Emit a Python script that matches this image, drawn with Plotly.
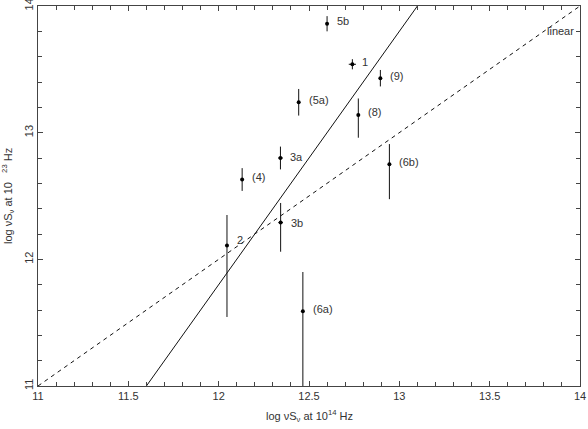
import plotly.graph_objects as go

# data
labels = ["5b", "1", "(9)", "(5a)", "(8)", "3a", "(4)", "(6b)", "3b", "2", "(6a)"]
x_ir = [12.60, 12.74, 12.895, 12.443, 12.773, 12.342, 12.13, 12.945, 12.343, 12.046, 12.466]
y_gamma = [13.86, 13.54, 13.43, 13.24, 13.14, 12.80, 12.63, 12.75, 12.29, 12.11, 11.59]
y_err_plus = [0.06, 0.04, 0.065, 0.105, 0.13, 0.09, 0.09, 0.16, 0.155, 0.24, 0.31]
y_err_minus = [0.06, 0.04, 0.065, 0.105, 0.18, 0.09, 0.09, 0.275, 0.23, 0.565, 0.8]
x_err = [0.0, 0.02, 0.0, 0.0, 0.0, 0.013, 0.0, 0.0, 0.013, 0.0, 0.0]
label_dy = [0.02, 0.02, 0.02, 0.02, 0.02, 0.01, 0.02, 0.02, 0.0, 0.04, 0.02]

fit_slope, fit_intercept = 2.0, -12.2
x_line = [11.0, 14.0]
x_range = [11, 14]
y_range = [11, 14]

font = dict(family="Liberation Sans, Arial, sans-serif", size=11, color="#333333")

fig = go.Figure()

fig.add_trace(go.Scatter(
    x=x_line, y=[fit_slope * v + fit_intercept for v in x_line],
    mode="lines", line=dict(color="#111111", width=1), showlegend=False,
    cliponaxis=True))
fig.add_trace(go.Scatter(
    x=x_line, y=x_line,
    mode="lines", line=dict(color="#111111", width=1, dash="4px,4px"), showlegend=False))

fig.add_trace(go.Scatter(
    x=x_ir, y=y_gamma, mode="markers",
    marker=dict(color="black", size=4),
    error_y=dict(type="data", symmetric=False, array=y_err_plus, arrayminus=y_err_minus,
                 color="#111111", thickness=1, width=0),
    error_x=dict(type="data", array=x_err, color="#111111", thickness=1, width=0),
    showlegend=False, cliponaxis=True))

for lab, xv, yv, dy in zip(labels, x_ir, y_gamma, label_dy):
    fig.add_annotation(x=xv, y=yv + dy, text=lab, showarrow=False, xanchor="left",
                       yanchor="middle", xshift=8, font=font)

fig.add_annotation(x=14, y=13.8, text="linear", showarrow=False, xanchor="right",
                   yanchor="middle", xshift=-4, font=font)

# axis titles
fig.add_annotation(x=0.5, y=0, xref="paper", yref="paper", xanchor="center", yanchor="top",
                   yshift=-20, showarrow=False, font=font,
                   text="log νS<sub>ν</sub> at 10<sup>14</sup> Hz")
fig.add_annotation(x=0, y=0.5, xref="paper", yref="paper", xanchor="right", yanchor="middle",
                   xshift=-20, showarrow=False, font=font, textangle=-90,
                   text="log νS<sub>ν</sub> at 10   <sup>23</sup> Hz")

axis_common = dict(showgrid=False, zeroline=False, showline=True, linecolor="#444444",
                   linewidth=1, mirror="ticks", ticks="inside", ticklen=5, tickcolor="#444444",
                   tickfont=font, automargin=False, ticklabeloverflow="allow")

fig.update_xaxes(range=x_range, dtick=0.5, tick0=11,
                 minor=dict(dtick=0.1, ticks="inside", ticklen=4, tickcolor="#444444"),
                 **axis_common)
fig.update_yaxes(range=y_range, dtick=1, tick0=11, tickangle=-90,
                 minor=dict(dtick=0.2, ticks="inside", ticklen=4, tickcolor="#444444"),
                 **axis_common)

fig.update_layout(width=588, height=429, margin=dict(l=38, r=8, t=6, b=43),
                  plot_bgcolor="white", paper_bgcolor="white", font=font)

fig.write_html("out.html", config={"displayModeBar": False},
               post_script="document.body.style.margin='0';document.body.style.overflow='hidden';")
